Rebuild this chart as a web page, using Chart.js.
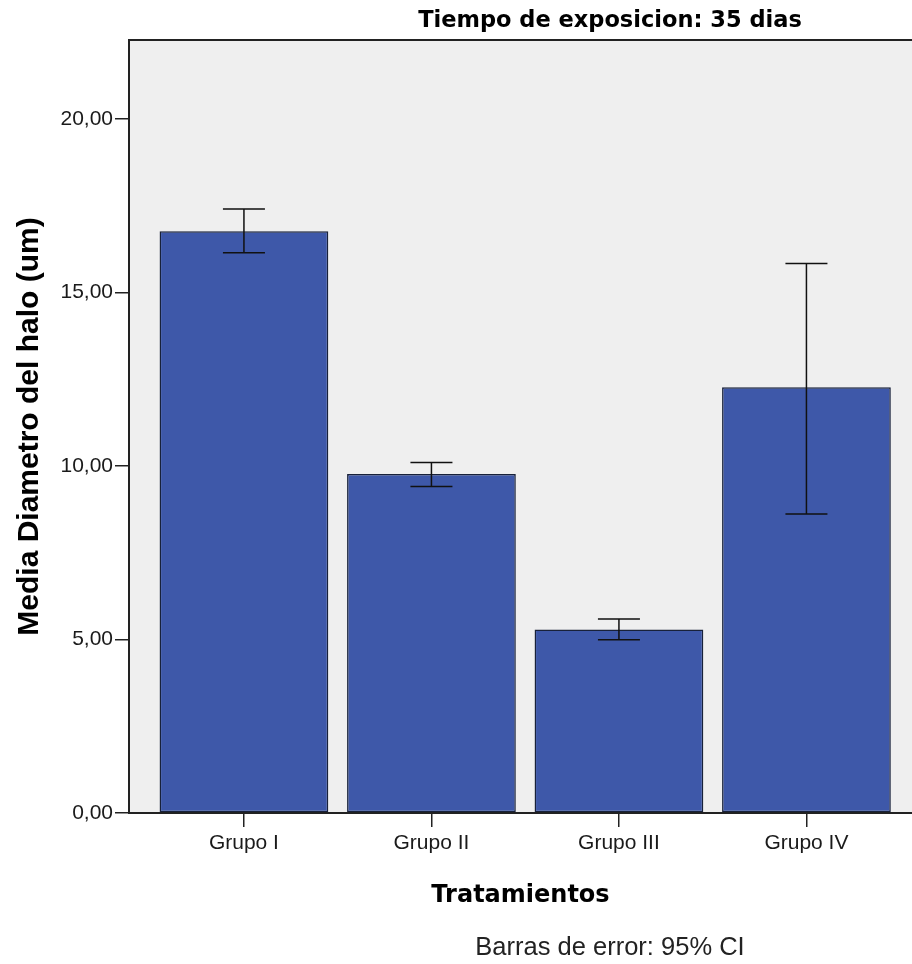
<!DOCTYPE html>
<html>
<head>
<meta charset="utf-8">
<script src="https://cdn.jsdelivr.net/npm/chart.js@4/dist/chart.umd.min.js"></script>
<style>
    body { margin: 0; background: #ffffff; }
    #wrap { width: 912px; height: 964px; }
</style>
</head>
<body>
<div id="wrap"><canvas id="haloChart" width="912" height="964"></canvas></div>
<script>
// Data
const groups = ['Grupo I', 'Grupo II', 'Grupo III', 'Grupo IV'];
const means = [16.77, 9.77, 5.29, 12.27];
const ciLower = [16.15, 9.41, 4.99, 8.62];
const ciUpper = [17.41, 10.10, 5.59, 15.84];
const yTicks = [0, 5, 10, 15, 20];

const barColor = '#3e58a9';
const plotBg = '#efefef';

// Plot background + top frame line
const frame = {
    id: 'frame',
    beforeDraw(chart) {
        const { ctx, chartArea: a } = chart;
        ctx.save();
        ctx.fillStyle = plotBg;
        ctx.fillRect(a.left, a.top, a.right - a.left, a.bottom - a.top);
        ctx.strokeStyle = '#222';
        ctx.lineWidth = 2;
        ctx.beginPath();
        ctx.moveTo(a.left, a.top);
        ctx.lineTo(a.right, a.top);
        ctx.stroke();
        ctx.restore();
    }
};

// 95% CI whiskers, positioned through the chart scales
const errorBars = {
    id: 'errorBars',
    afterDatasetsDraw(chart) {
        const { ctx, scales: { x, y } } = chart;
        ctx.save();
        ctx.strokeStyle = '#111';
        ctx.lineWidth = 1.5;
        groups.forEach((g, i) => {
            const cx = x.getPixelForValue(i);
            const lo = y.getPixelForValue(ciLower[i]);
            const hi = y.getPixelForValue(ciUpper[i]);
            ctx.beginPath();
            ctx.moveTo(cx, hi); ctx.lineTo(cx, lo);
            ctx.moveTo(cx - 21, hi); ctx.lineTo(cx + 21, hi);
            ctx.moveTo(cx - 21, lo); ctx.lineTo(cx + 21, lo);
            ctx.stroke();
        });
        ctx.restore();
    }
};

// Title and footnote text
const labels = {
    id: 'labels',
    afterDraw(chart) {
        const { ctx } = chart;
        ctx.save();
        ctx.fillStyle = '#000';
        ctx.textAlign = 'center';
        ctx.textBaseline = 'alphabetic';
        ctx.font = 'bold 22.5px "DejaVu Sans"';
        ctx.fillText('Tiempo de exposicion: 35 dias', 610, 27);
        ctx.font = '25.5px "Liberation Sans"';
        ctx.fillStyle = '#222';
        ctx.fillText('Barras de error: 95% CI', 610, 955);
        ctx.restore();
    }
};

new Chart(document.getElementById('haloChart').getContext('2d'), {
    type: 'bar',
    data: {
        datasets: [{
            data: means.map((v, i) => ({ x: i, y: v })),
            backgroundColor: barColor,
            borderColor: '#18213a',
            borderWidth: 1.5,
            borderSkipped: false,
            categoryPercentage: 1,
            barPercentage: 0.9
        }]
    },
    options: {
        responsive: false,
        animation: false,
        layout: { padding: { top: 40, left: 0, right: 0, bottom: 50 } },
        plugins: { legend: { display: false }, tooltip: { enabled: false } },
        scales: {
            x: {
                type: 'linear',
                offset: false,
                min: -0.613,
                max: 3.563,
                afterBuildTicks: s => { s.ticks = groups.map((g, i) => ({ value: i })); },
                afterFit: s => { s.height = 101; },
                ticks: {
                    callback: v => groups[v],
                    color: '#1a1a1a',
                    font: { family: 'Liberation Sans', size: 21 },
                    padding: 4,
                    maxRotation: 0,
                    autoSkip: false
                },
                grid: { offset: false, drawOnChartArea: false, drawTicks: true, tickLength: 14, color: '#222', lineWidth: 1.5 },
                border: { color: '#222', width: 2 },
                title: {
                    display: true,
                    text: 'Tratamientos',
                    color: '#000',
                    font: { family: 'DejaVu Sans', size: 24, weight: 'bold' },
                    padding: { top: 0, bottom: 4 }
                }
            },
            y: {
                min: 0,
                max: 22.28,
                afterBuildTicks: s => { s.ticks = yTicks.map(v => ({ value: v })); },
                afterFit: s => { s.width = 129; },
                ticks: {
                    callback: v => v.toFixed(2).replace('.', ','),
                    color: '#1a1a1a',
                    font: { family: 'Liberation Sans', size: 21 },
                    padding: 2
                },
                grid: { drawOnChartArea: false, drawTicks: true, tickLength: 14, color: '#222', lineWidth: 1.5 },
                border: { color: '#222', width: 2 },
                title: {
                    display: true,
                    text: 'Media Diametro del halo (um)',
                    color: '#000',
                    font: { family: 'Liberation Sans', size: 30, weight: 'bold' },
                    padding: { top: 12, bottom: 0 }
                }
            }
        }
    },
    plugins: [frame, errorBars, labels]
});
</script>
</body>
</html>
